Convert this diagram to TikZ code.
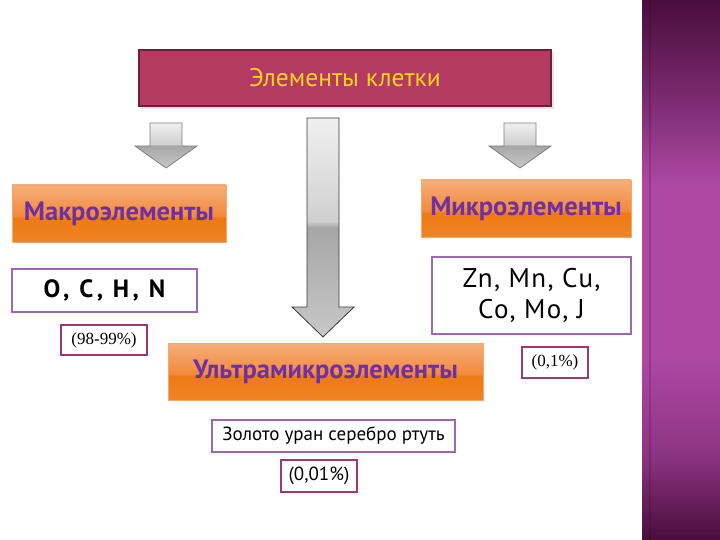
\documentclass[tikz,border=0pt]{standalone}
\usepackage{fontspec}
\setmainfont{PT Sans}
\newfontfamily\serifpct{Liberation Serif}
\newfontfamily\spaced[LetterSpace=14]{PT Sans}
\newfontfamily\spacedlight[LetterSpace=5]{PT Sans}

\definecolor{titlefill}{HTML}{B33B62}
\definecolor{titleedge}{HTML}{6F1E3E}
\definecolor{titletext}{HTML}{FFD21F}
\definecolor{purpletext}{HTML}{7030A0}
\definecolor{boxedge}{HTML}{9B6AAE}
\definecolor{pctedge}{HTML}{9A3A6E}
\definecolor{arrowedge}{HTML}{3A3A3A}
\definecolor{arrowedgelight}{HTML}{808080}
\definecolor{oedge}{HTML}{F3A86E}
\definecolor{oA}{HTML}{F08424}
\definecolor{oB}{HTML}{EE7A14}
\definecolor{oC}{HTML}{F28A3E}
\definecolor{oD}{HTML}{F6AE7A}
\definecolor{gA}{HTML}{C8C8C8}
\definecolor{gB}{HTML}{A6A6A6}
\definecolor{gC}{HTML}{D0D0D0}
\definecolor{gD}{HTML}{F0F0F0}
\definecolor{pA}{HTML}{480E3C}
\definecolor{pB}{HTML}{8E3484}
\definecolor{pC}{HTML}{AE48A2}
\definecolor{pD}{HTML}{7A2A70}

\pgfdeclareverticalshading{orangesh}{100bp}{color(0bp)=(oA); color(25bp)=(oA); color(46bp)=(oB); color(48bp)=(oC); color(75bp)=(oD); color(100bp)=(oD)}
\pgfdeclareverticalshading{graysh}{100bp}{color(0bp)=(gA); color(25bp)=(gA); color(50bp)=(gB); color(51.5bp)=(gC); color(75bp)=(gD); color(100bp)=(gD)}
\pgfdeclareverticalshading{purplesh}{100bp}{color(0bp)=(pA); color(25bp)=(pA); color(33bp)=(pB); color(42bp)=(pC); color(58bp)=(pC); color(66bp)=(pD); color(75bp)=(pA); color(100bp)=(pA)}

\tikzset{
  titlebox/.style={rectangle, fill=titlefill, draw=titleedge, line width=2pt, inner sep=0pt,
    text=titletext, font=\fontsize{25.5}{30}\selectfont},
  obox/.style={rectangle, shade, shading=orangesh, draw=oedge, line width=0.8pt, inner sep=0pt,
    text=purpletext, font=\fontsize{26.5}{30}\selectfont\bfseries},
  ebox/.style={rectangle, fill=white, draw=boxedge, line width=2.5pt, inner sep=0pt, text=black},
  pbox/.style={rectangle, fill=white, draw=pctedge, line width=2.5pt, inner sep=0pt, text=black},
  barrow/.style={shade, shading=graysh, draw=arrowedge, line width=0.8pt, line join=miter},
}

\newcommand\blockarr[5]{%
  \draw[barrow, #5] ({#1-16},#2) -- ({#1+16},#2) -- ({#1+16},#4) -- ({#1+31},#4) -- (#1,#3)
    -- ({#1-31},#4) -- ({#1-16},#4) -- cycle;}

\begin{document}
\begin{tikzpicture}[x=1pt,y=-1pt]
\useasboundingbox (0,0) rectangle (720,540);
\fill[white] (0,0) rectangle (720,540);

% side panel
\shade[shading=purplesh] (642,0) rectangle (720,540);
\draw[black, opacity=0.15, line width=1.5pt] (650,0) -- (650,540);

% title
\fill[black, opacity=0.10] (141,52) rectangle (554,109);
\node[titlebox, minimum width=412pt, minimum height=56pt] (title) at (345,78) {Элементы клетки};

% arrows
\blockarr{166}{123}{168}{146}{draw=arrowedgelight}
\blockarr{520}{123}{168}{146}{draw=arrowedgelight}
\blockarr{323}{118}{337}{307}{}

% category boxes
\node[obox, minimum width=214pt, minimum height=57pt] (macro) at (119,213.5) {Макроэлементы};
\node[obox, minimum width=210pt, minimum height=57pt] (micro) at (526,208.5) {Микроэлементы};
\node[obox, minimum width=315pt, minimum height=57pt] (ultra) at (325.5,371.5) {Ультрамикроэлементы};

% element boxes
\node[ebox, minimum width=185pt, minimum height=43pt, font=\spaced\fontsize{25}{30}\selectfont\bfseries] (ochn) at (104.5,290.5) {O, C, H, N};
\node[ebox, minimum width=199pt, minimum height=77pt, align=center, font=\spacedlight\fontsize{27}{31}\selectfont] (znmn) at (531.5,295.5) {Zn, Mn, Cu,\\Co, Mo, J};
\node[ebox, minimum width=243pt, minimum height=32pt, font=\fontsize{19}{23}\selectfont] (gold) at (333.5,436) {Золото уран серебро ртуть};

% percentages
\node[pbox, minimum width=86pt, minimum height=30pt, font=\serifpct\fontsize{17}{20}\selectfont] (p98) at (104,340) {(98-99\%)};
\node[pbox, minimum width=66pt, minimum height=31pt, font=\serifpct\fontsize{17}{20}\selectfont] (p01) at (555,362.5) {(0,1\%)};
\node[pbox, minimum width=76pt, minimum height=32pt, font=\fontsize{19}{23}\selectfont] (p001) at (319,476) {(0,01\%)};
\end{tikzpicture}
\end{document}
